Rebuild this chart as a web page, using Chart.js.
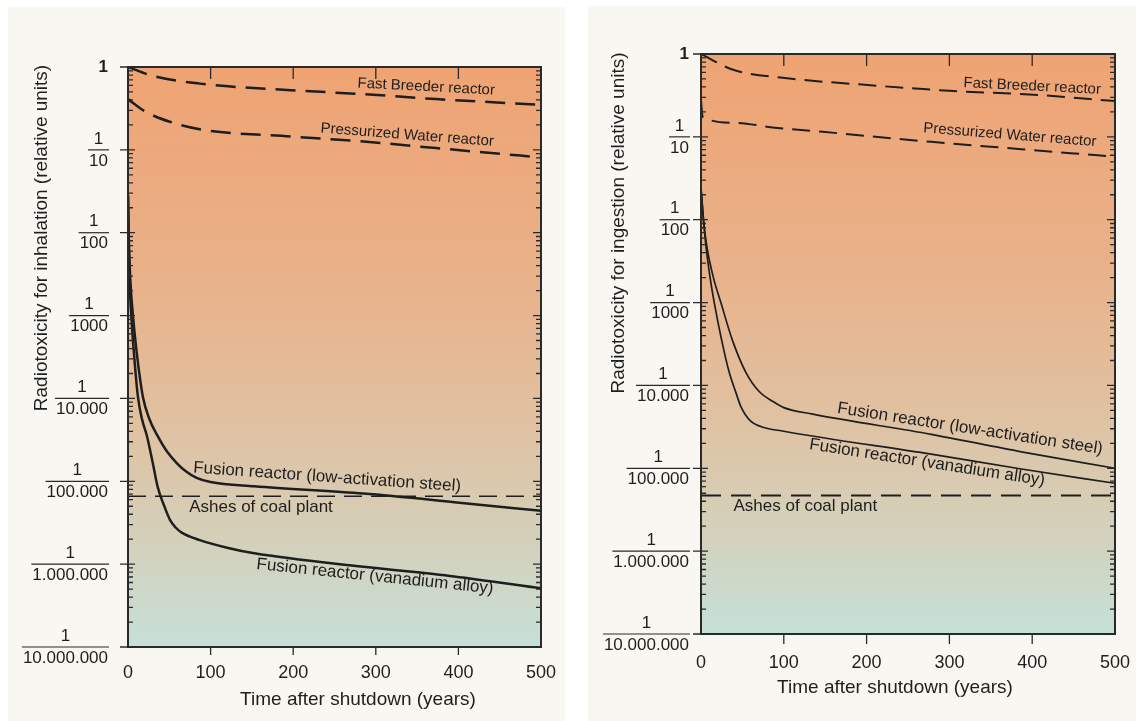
<!DOCTYPE html>
<html>
<head>
<meta charset="utf-8">
<script src="https://cdn.jsdelivr.net/npm/chart.js@4.4.1/dist/chart.umd.min.js"></script>
<style>
  html, body { margin: 0; padding: 0; background: #fff; }
  body { width: 1136px; height: 721px; position: relative; overflow: hidden; }
  .panel { position: absolute; background: #f9f7f1; }
  #p1 { left: 8px; top: 7px; width: 557px; height: 714px; }
  #p2 { left: 588px; top: 6px; width: 548px; height: 715px; }
  canvas { display: block; }
</style>
</head>
<body>
<div class="panel" id="p1"><canvas id="inhalation"></canvas></div>
<div class="panel" id="p2"><canvas id="ingestion"></canvas></div>
<script>
// x axis ticks and y axis fraction labels (1 / denominator)
const xTicks = [0, 100, 200, 300, 400, 500];
const yDenoms = ["1", "10", "100", "1000", "10.000", "100.000", "1.000.000", "10.000.000"];

// --- inhalation (left) ---
const inhFastBreederYears = [0, 30, 87, 197, 285, 373, 500];
const inhFastBreeder      = [1.0, 0.78, 0.63, 0.525, 0.47, 0.41, 0.35];
const inhPwrYears = [0, 21, 56, 92, 197, 285, 373, 500];
const inhPwr      = [0.41, 0.29, 0.21, 0.174, 0.145, 0.126, 0.105, 0.081];
const inhSteelYears = [0, 1, 3, 6, 10, 18, 26, 36, 47, 59, 70, 83, 100, 153, 285, 395, 500];
const inhSteel      = [0.028, 0.0079, 0.0025, 0.001, 4.0e-4, 1.05e-4, 5.6e-5, 3.5e-5, 2.3e-5, 1.66e-5,
                       1.32e-5, 1.1e-5, 9.8e-6, 8.7e-6, 7.1e-6, 5.6e-6, 4.4e-6];
const inhVanadiumYears = [0, 1, 2, 4, 8, 12, 17, 23, 30, 36, 44, 51, 58, 65, 87, 120, 153, 285, 395, 500];
const inhVanadium      = [0.028, 0.0063, 0.0025, 0.001, 2.8e-4, 1.05e-4, 5.6e-5, 3.5e-5, 1.66e-5, 8.5e-6,
                          5.0e-6, 3.4e-6, 2.75e-6, 2.4e-6, 1.95e-6, 1.58e-6, 1.35e-6, 9.3e-7, 7.1e-7, 5.1e-7];
const coalYears = [0, 500];
const inhCoal = [6.6e-6, 6.6e-6];

// --- ingestion (right) ---
const ingFastBreederYears = [0, 38, 104, 191, 300, 408, 500];
const ingFastBreeder      = [1.0, 0.65, 0.51, 0.43, 0.36, 0.32, 0.27];
const ingPwrYears = [0, 2, 40, 89, 147, 278, 387, 500];
const ingPwr      = [0.28, 0.174, 0.148, 0.129, 0.115, 0.087, 0.071, 0.0575];
const ingSteelYears = [0, 3, 7, 15, 24, 38, 54, 70, 88, 100, 135, 278, 387, 500];
const ingSteel      = [0.024, 0.01, 0.0048, 0.002, 0.001, 3.5e-4, 1.45e-4, 8.5e-5, 6.3e-5, 5.4e-5,
                       4.5e-5, 2.57e-5, 1.58e-5, 1.0e-5];
const ingVanadiumYears = [0, 3, 6, 11, 16, 25, 34, 42, 48, 60, 72, 100, 278, 387, 500];
const ingVanadium      = [0.024, 0.01, 0.0048, 0.002, 0.001, 3.5e-4, 1.45e-4, 8.3e-5, 5.6e-5, 3.7e-5,
                          3.2e-5, 2.8e-5, 1.48e-5, 9.8e-6, 6.6e-6];
const ingCoal = [4.7e-6, 4.7e-6];

const FONT = '"Liberation Sans", Arial, sans-serif';
const INK = "#1e1e1e";

function pts(xs, ys) {
  return xs.map((x, i) => ({ x, y: ys[i] }));
}

function line(xs, ys, width, dash) {
  return {
    data: pts(xs, ys),
    borderColor: INK,
    borderWidth: width,
    borderDash: dash || [],
    pointRadius: 0,
    fill: false,
    cubicInterpolationMode: "monotone"
  };
}

// draws background, frame, ticks, fraction labels, titles and notes
function panelPlugin(cfg) {
  return {
    id: "panel",
    beforeDatasetsDraw(chart) {
      const { ctx, chartArea: a } = chart;
      const g = ctx.createLinearGradient(0, a.top, 0, a.bottom);
      g.addColorStop(0, "#efa373");
      g.addColorStop(0.35, "#e9b189");
      g.addColorStop(0.6, "#e1c09f");
      g.addColorStop(0.8, "#d5cfb8");
      g.addColorStop(1, "#c6e0d8");
      ctx.save();
      ctx.fillStyle = g;
      ctx.fillRect(a.left, a.top, a.right - a.left, a.bottom - a.top);
      ctx.restore();
    },
    afterDatasetsDraw(chart) {
      const { ctx, chartArea: a, scales } = chart;
      const xs = scales.x, ys = scales.y;
      ctx.save();
      ctx.strokeStyle = "#2a2a2a";
      ctx.fillStyle = INK;

      // frame
      ctx.lineWidth = 2;
      ctx.strokeRect(a.left, a.top, a.right - a.left, a.bottom - a.top);

      // y ticks, major and minor
      ctx.lineWidth = 1.3;
      ctx.beginPath();
      for (let d = 0; d < yDenoms.length; d++) {
        const y = ys.getPixelForValue(Math.pow(10, -d));
        ctx.moveTo(a.left - 8, y); ctx.lineTo(a.left + 7, y);
        ctx.moveTo(a.right - 8, y); ctx.lineTo(a.right, y);
        if (d < yDenoms.length - 1) {
          for (let m = 2; m <= 9; m++) {
            const ym = ys.getPixelForValue(m * Math.pow(10, -d - 1));
            ctx.moveTo(a.left, ym); ctx.lineTo(a.left + 5, ym);
            ctx.moveTo(a.right - 5, ym); ctx.lineTo(a.right, ym);
          }
        }
      }
      // x ticks: inward at top, outward at bottom
      xTicks.slice(1, -1).forEach(v => {
        const x = xs.getPixelForValue(v);
        ctx.moveTo(x, a.top); ctx.lineTo(x, a.top + 12);
        ctx.moveTo(x, a.bottom); ctx.lineTo(x, a.bottom + cfg.bottomTick);
      });
      ctx.stroke();

      // y labels as fractions
      const lr = a.left - cfg.labelGap;
      ctx.textBaseline = "middle";
      yDenoms.forEach((den, d) => {
        const y = ys.getPixelForValue(Math.pow(10, -d));
        if (d === 0) {
          ctx.font = "bold 17px " + FONT;
          ctx.textAlign = "right";
          ctx.fillText("1", lr, y);
          return;
        }
        ctx.font = "17px " + FONT;
        const w = ctx.measureText(den).width;
        const cx = lr - w / 2;
        ctx.textAlign = "center";
        ctx.fillText("1", cx, y - 11);
        ctx.fillText(den, cx, y + 11);
        ctx.lineWidth = 1.2;
        ctx.beginPath();
        ctx.moveTo(lr - w - 1, y); ctx.lineTo(lr + 1, y);
        ctx.stroke();
      });

      // x labels
      ctx.font = "18px " + FONT;
      ctx.textAlign = "center";
      xTicks.forEach(v => ctx.fillText(String(v), xs.getPixelForValue(v), a.bottom + cfg.xLabelGap));

      // axis titles
      ctx.font = "19px " + FONT;
      ctx.fillText("Time after shutdown (years)", cfg.xTitle[0], cfg.xTitle[1]);
      ctx.save();
      ctx.translate(cfg.yTitle[0], cfg.yTitle[1]);
      ctx.rotate(-Math.PI / 2);
      ctx.fillText(cfg.yTitleText, 0, 0);
      ctx.restore();

      // curve notes
      cfg.notes.forEach(n => {
        ctx.save();
        ctx.translate(xs.getPixelForValue(n.x), ys.getPixelForValue(n.y));
        ctx.rotate(n.rot * Math.PI / 180);
        ctx.font = n.size + "px " + FONT;
        ctx.fillText(n.text, 0, 0);
        ctx.restore();
      });
      ctx.restore();
    }
  };
}

function makeChart(id, datasets, padding, cfg) {
  return new Chart(document.getElementById(id), {
    type: "line",
    data: { datasets },
    options: {
      responsive: true,
      maintainAspectRatio: false,
      animation: false,
      layout: { padding },
      plugins: { legend: { display: false }, tooltip: { enabled: false } },
      scales: {
        x: { type: "linear", min: 0, max: 500, display: false },
        y: { type: "logarithmic", min: 1e-7, max: 1, display: false }
      }
    },
    plugins: [panelPlugin(cfg)]
  });
}

makeChart("inhalation", [
  line(inhFastBreederYears, inhFastBreeder, 2.5, [20, 10]),
  line(inhPwrYears, inhPwr, 2.5, [20, 10]),
  line(coalYears, inhCoal, 1.6, [18, 9]),
  line(inhSteelYears, inhSteel, 2.5),
  line(inhVanadiumYears, inhVanadium, 2.5)
], { left: 120, top: 60, right: 24, bottom: 74 }, {
  labelGap: 20,
  bottomTick: 8,
  xLabelGap: 26,
  xTitle: [350, 693],
  yTitle: [34, 231],
  yTitleText: "Radiotoxicity for inhalation (relative units)",
  notes: [
    { text: "Fast Breeder reactor", x: 361, y: 0.575, rot: 3, size: 15 },
    { text: "Pressurized Water reactor", x: 338, y: 0.151, rot: 4.4, size: 15 },
    { text: "Fusion reactor (low-activation steel)", x: 241, y: 1.12e-5, rot: 4, size: 17 },
    { text: "Ashes of coal plant", x: 161, y: 4.9e-6, rot: 0, size: 17 },
    { text: "Fusion reactor (vanadium alloy)", x: 299, y: 7.1e-7, rot: 5.9, size: 17 }
  ]
});

makeChart("ingestion", [
  line(ingFastBreederYears, ingFastBreeder, 2, [18, 9]),
  line(ingPwrYears, ingPwr, 2, [18, 9]),
  line(coalYears, ingCoal, 2, [20, 10]),
  line(ingSteelYears, ingSteel, 1.7),
  line(ingVanadiumYears, ingVanadium, 1.7)
], { left: 113, top: 48, right: 21, bottom: 87 }, {
  labelGap: 12,
  bottomTick: 10,
  xLabelGap: 29,
  xTitle: [307, 682],
  yTitle: [31, 217],
  yTitleText: "Radiotoxicity for ingestion (relative units)",
  notes: [
    { text: "Fast Breeder reactor", x: 400, y: 0.407, rot: 2.9, size: 15 },
    { text: "Pressurized Water reactor", x: 373, y: 0.105, rot: 4.6, size: 15 },
    { text: "Fusion reactor (low-activation steel)", x: 325, y: 3.0e-5, rot: 8.8, size: 17 },
    { text: "Fusion reactor (vanadium alloy)", x: 273, y: 1.17e-5, rot: 8.8, size: 17 },
    { text: "Ashes of coal plant", x: 126, y: 3.47e-6, rot: 0, size: 17 }
  ]
});
</script>
</body>
</html>
